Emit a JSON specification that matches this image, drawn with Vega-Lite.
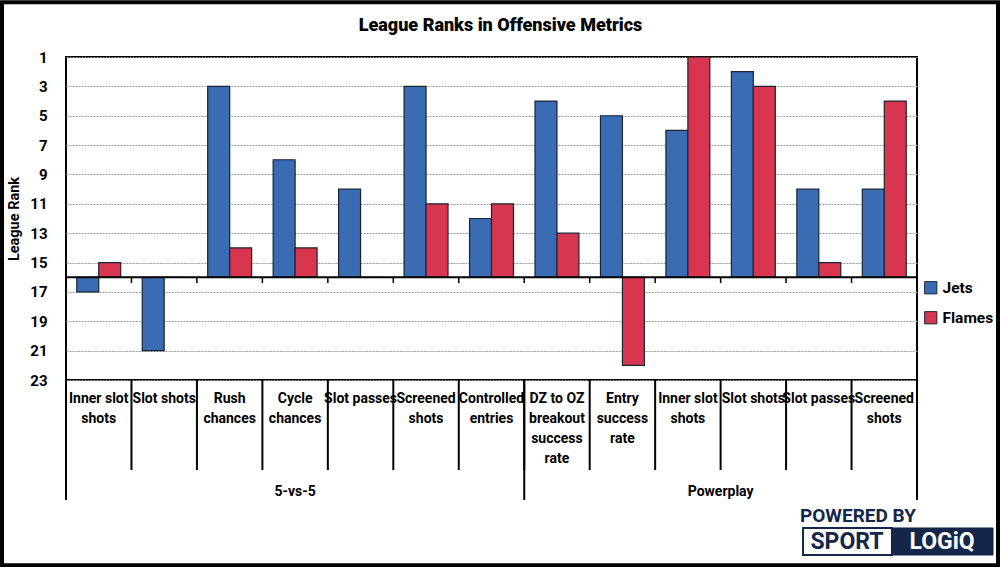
{
  "$schema": "https://vega.github.io/schema/vega-lite/v6.json",
  "width": 851,
  "height": 323,
  "autosize": {"type": "none"},
  "padding": {"left": 66, "top": 57, "right": 83, "bottom": 187},
  "background": "white",
  "config": {
    "font": "Roboto, Liberation Sans, sans-serif",
    "view": {"stroke": "black", "strokeWidth": 2}
  },
  "title": {
    "text": "League Ranks in Offensive Metrics",
    "fontSize": 18,
    "fontWeight": 900,
    "color": "black",
    "anchor": "middle",
    "frame": "group",
    "dx": 9,
    "offset": -41
  },
  "datasets": {
    "bars": [
      {"key": "5v5 Inner slot shots", "team": "Jets", "rank": 17},
      {"key": "5v5 Inner slot shots", "team": "Flames", "rank": 15},
      {"key": "5v5 Slot shots", "team": "Jets", "rank": 21},
      {"key": "5v5 Slot shots", "team": "Flames", "rank": 16},
      {"key": "5v5 Rush chances", "team": "Jets", "rank": 3},
      {"key": "5v5 Rush chances", "team": "Flames", "rank": 14},
      {"key": "5v5 Cycle chances", "team": "Jets", "rank": 8},
      {"key": "5v5 Cycle chances", "team": "Flames", "rank": 14},
      {"key": "5v5 Slot passes", "team": "Jets", "rank": 10},
      {"key": "5v5 Slot passes", "team": "Flames", "rank": 16},
      {"key": "5v5 Screened shots", "team": "Jets", "rank": 3},
      {"key": "5v5 Screened shots", "team": "Flames", "rank": 11},
      {"key": "5v5 Controlled entries", "team": "Jets", "rank": 12},
      {"key": "5v5 Controlled entries", "team": "Flames", "rank": 11},
      {"key": "PP DZ to OZ breakout success rate", "team": "Jets", "rank": 4},
      {"key": "PP DZ to OZ breakout success rate", "team": "Flames", "rank": 13},
      {"key": "PP Entry success rate", "team": "Jets", "rank": 5},
      {"key": "PP Entry success rate", "team": "Flames", "rank": 22},
      {"key": "PP Inner slot shots", "team": "Jets", "rank": 6},
      {"key": "PP Inner slot shots", "team": "Flames", "rank": 1},
      {"key": "PP Slot shots", "team": "Jets", "rank": 2},
      {"key": "PP Slot shots", "team": "Flames", "rank": 3},
      {"key": "PP Slot passes", "team": "Jets", "rank": 10},
      {"key": "PP Slot passes", "team": "Flames", "rank": 15},
      {"key": "PP Screened shots", "team": "Jets", "rank": 10},
      {"key": "PP Screened shots", "team": "Flames", "rank": 4}
    ],
    "cats": [
      {"key": "5v5 Inner slot shots", "label": "Inner slot\nshots", "group": "5-vs-5"},
      {"key": "5v5 Slot shots", "label": "Slot shots", "group": "5-vs-5"},
      {"key": "5v5 Rush chances", "label": "Rush\nchances", "group": "5-vs-5"},
      {"key": "5v5 Cycle chances", "label": "Cycle\nchances", "group": "5-vs-5"},
      {"key": "5v5 Slot passes", "label": "Slot passes", "group": "5-vs-5"},
      {"key": "5v5 Screened shots", "label": "Screened\nshots", "group": "5-vs-5"},
      {"key": "5v5 Controlled entries", "label": "Controlled\nentries", "group": "5-vs-5"},
      {"key": "PP DZ to OZ breakout success rate", "label": "DZ to OZ\nbreakout\nsuccess\nrate", "group": "Powerplay"},
      {"key": "PP Entry success rate", "label": "Entry\nsuccess\nrate", "group": "Powerplay"},
      {"key": "PP Inner slot shots", "label": "Inner slot\nshots", "group": "Powerplay"},
      {"key": "PP Slot shots", "label": "Slot shots", "group": "Powerplay"},
      {"key": "PP Slot passes", "label": "Slot passes", "group": "Powerplay"},
      {"key": "PP Screened shots", "label": "Screened\nshots", "group": "Powerplay"}
    ],
    "groups": [
      {"group": "5-vs-5"},
      {"group": "Powerplay"}
    ],
    "logo": [
      {"text": "POWERED BY"},
      {"text": "SPORT"},
      {"text": "LOGiQ"}
    ]
  },
  "layer": [
    {
      "data": {"name": "bars"},
      "mark": {"type": "bar", "stroke": "#1b2433", "strokeWidth": 1.2},
      "encoding": {
        "x": {
          "field": "key",
          "type": "nominal",
          "scale": {
            "domain": ["5v5 Inner slot shots", "5v5 Slot shots", "5v5 Rush chances", "5v5 Cycle chances", "5v5 Slot passes", "5v5 Screened shots", "5v5 Controlled entries", "PP DZ to OZ breakout success rate", "PP Entry success rate", "PP Inner slot shots", "PP Slot shots", "PP Slot passes", "PP Screened shots"],
            "paddingInner": 0,
            "paddingOuter": 0
          },
          "axis": null
        },
        "xOffset": {
          "field": "team",
          "type": "nominal",
          "scale": {"domain": ["Jets", "Flames"], "paddingInner": 0, "paddingOuter": 0.49}
        },
        "y": {
          "field": "rank",
          "type": "quantitative",
          "scale": {"domain": [1, 23], "reverse": true, "nice": false, "zero": false},
          "axis": {
            "values": [1, 3, 5, 7, 9, 11, 13, 15, 17, 19, 21, 23],
            "tickCount": 24,
            "labelOverlap": false,
            "title": "League Rank",
            "titleFontSize": 14.5,
            "titleFontWeight": "bold",
            "titleColor": "black",
            "titlePadding": 8,
            "labelFontSize": 15,
            "labelFontWeight": "bold",
            "labelColor": "black",
            "labelPadding": 19,
            "ticks": false,
            "domain": false,
            "grid": true,
            "gridColor": "#9a9a9a",
            "gridDash": [2, 1],
            "gridWidth": 1
          }
        },
        "y2": {"datum": 16},
        "color": {
          "field": "team",
          "type": "nominal",
          "scale": {"domain": ["Jets", "Flames"], "range": ["#3a6cb3", "#d8364f"]},
          "legend": {
            "orient": "none",
            "legendX": 857,
            "legendY": 223,
            "title": null,
            "symbolType": "square",
            "symbolSize": 150,
            "symbolStrokeColor": "#1b2433",
            "symbolStrokeWidth": 1,
            "labelFontSize": 15.5,
            "labelFontWeight": "bold",
            "labelColor": "black",
            "rowPadding": 12
          }
        }
      }
    },
    {
      "data": {"name": "cats"},
      "transform": [{"aggregate": [{"op": "count", "as": "n"}]}],
      "mark": {"type": "rule", "color": "black", "strokeWidth": 2},
      "encoding": {"y": {"datum": 16}}
    },
    {
      "data": {"name": "cats"},
      "mark": {"type": "rule", "color": "black", "strokeWidth": 1.5, "clip": false},
      "encoding": {
        "x": {"field": "key", "type": "nominal", "bandPosition": 0},
        "y": {"datum": 16},
        "y2": {"datum": 16.4}
      }
    },
    {
      "data": {"name": "cats"},
      "mark": {"type": "text", "clip": false, "baseline": "top", "dy": 12, "lineBreak": "\n", "lineHeight": 20, "fontSize": 14, "fontWeight": "bold", "color": "black"},
      "encoding": {
        "x": {"field": "key", "type": "nominal"},
        "y": {"datum": 23},
        "text": {"field": "label"}
      }
    },
    {
      "data": {"name": "cats"},
      "mark": {"type": "rule", "color": "black", "strokeWidth": 2, "clip": false},
      "encoding": {
        "x": {"field": "key", "type": "nominal", "bandPosition": 0},
        "y": {"datum": 23},
        "y2": {"datum": 29.13}
      }
    },
    {
      "data": {"name": "cats"},
      "transform": [{"filter": "datum.key == '5v5 Inner slot shots' || datum.key == 'PP DZ to OZ breakout success rate'"}],
      "mark": {"type": "rule", "color": "black", "strokeWidth": 2, "clip": false},
      "encoding": {
        "x": {"field": "key", "type": "nominal", "bandPosition": 0},
        "y": {"datum": 23},
        "y2": {"datum": 31.17}
      }
    },
    {
      "data": {"name": "cats"},
      "transform": [{"filter": "datum.key == 'PP Screened shots'"}],
      "mark": {"type": "rule", "color": "black", "strokeWidth": 2, "clip": false},
      "encoding": {
        "x": {"field": "key", "type": "nominal", "bandPosition": 1},
        "y": {"datum": 23},
        "y2": {"datum": 31.17}
      }
    },
    {
      "data": {"name": "groups"},
      "transform": [{"filter": "datum.group == '5-vs-5'"}],
      "mark": {"type": "text", "clip": false, "baseline": "middle", "dy": 112, "fontSize": 14, "fontWeight": "bold", "color": "black"},
      "encoding": {
        "x": {"datum": "5v5 Cycle chances", "bandPosition": 0.5},
        "y": {"datum": 23},
        "text": {"field": "group"}
      }
    },
    {
      "data": {"name": "groups"},
      "transform": [{"filter": "datum.group == 'Powerplay'"}],
      "mark": {"type": "text", "clip": false, "baseline": "middle", "dy": 112, "fontSize": 14, "fontWeight": "bold", "color": "black"},
      "encoding": {
        "x": {"datum": "PP Slot shots", "bandPosition": 0},
        "y": {"datum": 23},
        "text": {"field": "group"}
      }
    },
    {
      "data": {"name": "cats"},
      "transform": [{"aggregate": [{"op": "count", "as": "n"}]}],
      "mark": {"type": "point", "clip": false, "filled": true, "fill": "#14264a", "stroke": "#14264a", "strokeWidth": 1, "opacity": 1, "size": 784, "shape": "M-1.79,10.57H5.43V12.5H-1.79Z"},
      "encoding": {
        "x": {"datum": "PP Screened shots", "bandPosition": 1},
        "y": {"datum": 23}
      }
    },
    {
      "data": {"name": "cats"},
      "transform": [{"aggregate": [{"op": "count", "as": "n"}]}],
      "mark": {"type": "point", "clip": false, "filled": false, "stroke": "#14264a", "strokeWidth": 2, "opacity": 1, "size": 784, "shape": "M-8.14,10.57H-1.79V12.5H-8.14Z"},
      "encoding": {
        "x": {"datum": "PP Screened shots", "bandPosition": 1},
        "y": {"datum": 23}
      }
    },
    {
      "data": {"name": "logo"},
      "transform": [{"filter": "datum.text == 'POWERED BY'"}],
      "mark": {"type": "text", "clip": false, "align": "left", "baseline": "middle", "dx": -117, "dy": 136, "fontSize": 19, "fontWeight": "bold", "color": "#14264a"},
      "encoding": {
        "x": {"datum": "PP Screened shots", "bandPosition": 1},
        "y": {"datum": 23},
        "text": {"field": "text"}
      }
    },
    {
      "data": {"name": "logo"},
      "transform": [{"filter": "datum.text == 'SPORT'"}],
      "mark": {"type": "text", "clip": false, "align": "center", "baseline": "middle", "dx": -70, "dy": 162, "fontSize": 23, "fontWeight": "bold", "color": "#14264a"},
      "encoding": {
        "x": {"datum": "PP Screened shots", "bandPosition": 1},
        "y": {"datum": 23},
        "text": {"field": "text"}
      }
    },
    {
      "data": {"name": "logo"},
      "transform": [{"filter": "datum.text == 'LOGiQ'"}],
      "mark": {"type": "text", "clip": false, "align": "center", "baseline": "middle", "dx": 25, "dy": 162, "fontSize": 23, "fontWeight": "bold", "color": "white"},
      "encoding": {
        "x": {"datum": "PP Screened shots", "bandPosition": 1},
        "y": {"datum": 23},
        "text": {"field": "text"}
      }
    },
    {
      "data": {"name": "cats"},
      "transform": [{"aggregate": [{"op": "count", "as": "n"}]}],
      "mark": {"type": "point", "clip": false, "filled": false, "stroke": "black", "strokeWidth": 4, "opacity": 1, "size": 10000, "shape": "M-10.444,-5.5H9.476V5.76H-10.444Z"},
      "encoding": {
        "x": {"datum": "PP DZ to OZ breakout success rate", "bandPosition": 0},
        "y": {"datum": 16}
      }
    }
  ]
}
